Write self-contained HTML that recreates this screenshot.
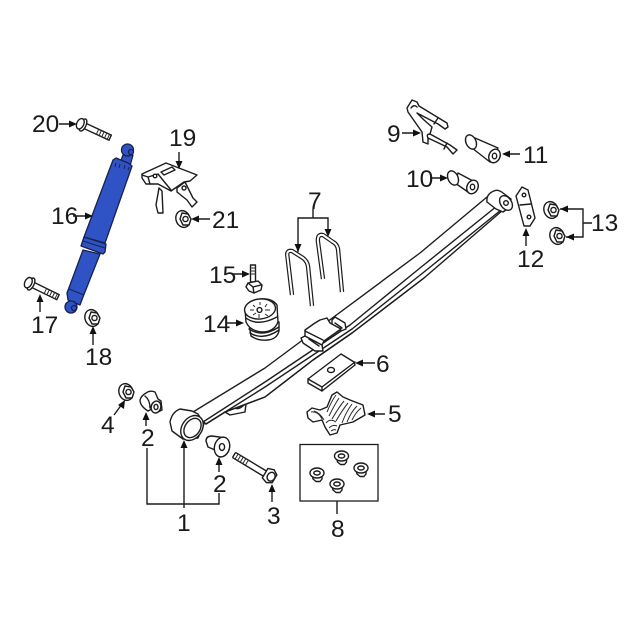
<!DOCTYPE html>
<html><head><meta charset="utf-8"><style>
html,body{margin:0;padding:0;background:#fff}
svg{display:block}
text{font-family:"Liberation Sans",sans-serif;font-size:24.5px;fill:#1a1a1a}
.o{fill:#fff;stroke:#1c1c1c;stroke-width:1.4;stroke-linejoin:round;stroke-linecap:round}
.l{fill:none;stroke:#1c1c1c;stroke-width:1.4;stroke-linejoin:round;stroke-linecap:round}
.t{fill:none;stroke:#2a2a2a;stroke-width:1}
.a{fill:none;stroke:#1c1c1c;stroke-width:1.4}
.h{fill:#111}
.b{fill:#2f52c4;stroke:#18224d;stroke-width:1.3;stroke-linejoin:round}
.bl{fill:none;stroke:#18224d;stroke-width:1}
.ub{fill:none;stroke:#1c1c1c;stroke-width:4.4;stroke-linejoin:round;stroke-linecap:butt}
.ui{fill:none;stroke:#fff;stroke-width:2;stroke-linejoin:round;stroke-linecap:butt}
</style></head><body>
<svg width="640" height="640" viewBox="0 0 640 640" xmlns="http://www.w3.org/2000/svg" style="filter:blur(.25px)">
<rect width="640" height="640" fill="#fff"/>
<defs>
<g id="nut"><ellipse cx="0" cy="0" rx="7" ry="8.5" class="o" transform="rotate(-20)"/><path class="o" d="M-1,-6 L5,-5 L8,0 L6,6 L0,6 L-3,0 Z"/><circle cx="2.5" cy="0" r="2.6" class="o"/></g>
<g id="bnut"><path class="o" d="M-5,1 L-4,6 L-1,8.500 L3,8.500 L5,6 L5,1 Z"/><ellipse cx="0" cy="0" rx="7" ry="5" class="o"/><ellipse cx="0" cy="0" rx="3.200" ry="2" class="o"/></g>
</defs>

<!-- Shock absorber -->
<g>
<path class="b" d="M120,163 L123,155 L133,155 L130,166 Z"/>
<circle cx="127.500" cy="150" r="6" class="b"/>
<circle cx="131" cy="152" r="2.500" class="b"/>
<path class="b" d="M83,250 L100,254 L83,297 L80,305 L68,300 L67,293 Z"/>
<path class="b" d="M113,160 L116,158 L128,163 L132,166 L131,169 L105,243 L84,237 Z"/>
<path class="b" d="M84,237 L106,244 L105,252 L103,254 L81,246 Z"/>
<path class="bl" d="M83,241 L105,248"/>
<circle cx="71" cy="307" r="6" class="b"/>
<circle cx="74" cy="308" r="2.500" class="b"/>
<path class="bl" d="M69,289 L84,295"/>
<path class="bl" d="M116,163 L115,167 M120,164 L119,168 M125,165 L124,169 M129,167 L128,170"/>
</g>

<!-- Bolt 20 -->
<g transform="translate(83,125) rotate(25)">
<rect x="0" y="-2.800" width="30" height="5.600" class="o"/>
<path class="t" d="M16,-3V3M19,-3V3M22,-3V3M25,-3V3M28,-3V3"/>
<ellipse cx="0" cy="0" rx="3" ry="6.500" class="o"/><ellipse cx="-3" cy="0" rx="3.500" ry="5.500" class="o"/>
</g>
<!-- Bolt 17 -->
<g transform="translate(31,284) rotate(26)">
<rect x="0" y="-2.800" width="30" height="5.600" class="o"/>
<path class="t" d="M16,-3V3M19,-3V3M22,-3V3M25,-3V3M28,-3V3"/>
<ellipse cx="0" cy="0" rx="3" ry="6.500" class="o"/><ellipse cx="-3" cy="0" rx="3.500" ry="5.500" class="o"/>
</g>

<!-- Bracket 19 -->
<g>
<path class="o" d="M159,188 L162,191 L163,213 L158,213 L156,205 Z" />
<path class="o" d="M177,188 L185,182 L193,198 L197,202 L192,207 L187,200 L177,192 Z"/>
<path class="o" d="M142,174 L166,163 L197,175 L190,181 L184,182 L171,191 L158,184 L146,184 L142,178 Z"/>
<path class="l" d="M142,175 L148,177 L150,184 M148,177 L158,174 L171,190"/>
<path class="l" d="M161,172 L172,167 L175,170 L164,175 Z"/>
<circle cx="155" cy="176" r="1.800" class="o"/>
<circle cx="184" cy="188" r="2" class="o"/>
</g>

<use href="#nut" x="183" y="219"/>
<use href="#nut" x="92" y="318"/>
<use href="#nut" x="126" y="392"/>
<use href="#nut" x="551" y="210"/>
<use href="#nut" x="557" y="236"/>

<!-- Leaf spring -->
<g>
<path class="o" d="M225,412 L230,415 L245,412 L246,404 L244,400 L228,408 Z"/>
<path class="l" d="M233,407 Q238,411 244,405"/>
<path class="o" d="M193,412 L265,368 L300,342 L420,253 L487,197 L503,210 L424,278 L352,333 L313,360 L265,397 L225,412 L206,424 Z"/>
<path class="l" d="M203,422 L265,382 L350,325 L420,268 L497,206"/>
<path class="l" d="M206,424 L265,387 L352,329 L424,272 L501,210"/>
<path class="l" d="M225,412 L265,397 L313,360 L352,333 L424,278"/>
<!-- clamp -->
<path class="o" d="M301,338 L305,336 L322,345 L323,351 L315,351 L303,343 Z"/>
<path class="o" d="M332,320 L335,317 L345,323 L346,329 L341,331 L332,326 Z"/>
<path class="o" d="M305,336 L305,330 L315,323 L320,320 L327,318 L330,323 L341,329 L324,341 L322,345 Z"/>
<path class="l" d="M305,331 L323,340 M309,339 L319,346 M335,323 L342,328"/>
<!-- right eye -->
<path class="o" d="M487,202 Q486,194 494,191 Q498,189 503,193 L511,199 L510,207 L503,212 L496,209 Z"/>
<ellipse cx="506" cy="203" rx="5.500" ry="8" class="o" transform="rotate(-35 506 203)"/>
<circle cx="506" cy="203" r="2.300" class="o"/>
<!-- left eye -->
<path class="o" d="M180,409 Q172,412 170,422 L172,431 L183,439 L198,438 L204,424 L198,414 L192,411 Z"/>
<ellipse cx="192" cy="428" rx="10" ry="13.500" class="o" transform="rotate(35 192 428)"/>
<ellipse cx="192.500" cy="428" rx="7.500" ry="10.500" class="o" transform="rotate(35 192.500 428)"/>
</g>

<!-- U-bolts -->
<path class="ub" d="M292,295 L287.500,257 Q286,250 292,251 L303,258 Q307,261 308,266 L312,306"/>
<path class="ui" d="M292,295 L287.500,257 Q286,250 292,251 L303,258 Q307,261 308,266 L312,306"/>
<path class="ub" d="M323,279 L318,242 Q317,234 323,235 L333,242 Q337,244 338,249 L342,292"/>
<path class="ui" d="M323,279 L318,242 Q317,234 323,235 L333,242 Q337,244 338,249 L342,292"/>

<!-- Bolt 15 -->
<g>
<rect x="250.500" y="265" width="5" height="17" class="o"/>
<path class="t" d="M250,268H256M250,271H256M250,274H256"/>
<path class="o" d="M248,283 L258,281 L262,285 L261,290 L254,293 L249,291 L246,287 Z"/>
<path class="l" d="M248,283 L253,287 L261,285 M253,287 L254,293"/>
</g>

<!-- Bumper 14 -->
<g>
<path class="o" d="M249,324 L251,336 Q258,341 268,340 Q277,339 279,331 L279,322 Z"/>
<path class="l" d="M249,329 Q262,338 279,327 M250,333 Q263,341 279,330"/>
<path class="o" d="M245,309 L246,322 Q250,331 262,332 Q274,332 278,322 L277,305 Q272,298 260,299 Q247,300 245,309 Z"/>
<ellipse cx="260" cy="309" rx="15.500" ry="10" class="o" transform="rotate(-6 260 309)"/>
<path class="l" d="M246,318 Q258,327 277,317"/>
<circle cx="259.500" cy="310" r="2.400" class="o"/>
<path class="t" d="M260,302V305M253,305L255,307M267,304L265,307M250,310H254M265,310H270M253,315L256,313M265,314L268,316M259,314V318"/>
</g>

<!-- Plate 6 -->
<path class="o" d="M308,379 L341,354 L354,362 L355,365 L322,391 L308,383 Z"/>
<path class="l" d="M308,379 L322,387 L355,362 M322,387 L322,391"/>
<ellipse cx="331" cy="370" rx="3.500" ry="2.600" class="o"/>

<!-- Part 5 -->
<g>
<path class="o" d="M307,412 L312,408 L320,410 L327,407 L332,395 L337,392 L343,397 L350,400 L363,405 L365,415 L353,422 L340,425 L337,433 L330,435 L325,427 L322,420 L313,422 L308,418 Z"/>
<path class="t" d="M311,412 Q318,411 322,419 M314,411 Q320,413 324,420 M327,412 Q332,400 336,395 M329,416 Q335,404 339,398 M332,419 Q339,407 344,401 M336,421 Q343,409 348,403 M342,423 Q346,412 352,404 M347,422 Q351,412 357,406 M352,420 Q356,412 361,408 M326,423 Q330,418 336,422 M329,428 Q333,424 337,426 M331,431 Q334,429 336,430"/>
</g>

<!-- Box 8 -->
<rect x="300" y="444.500" width="78" height="56.500" fill="#fff" stroke="#1c1c1c" stroke-width="1.300"/>
<use href="#bnut" x="341.500" y="456"/>
<use href="#bnut" x="361" y="468"/>
<use href="#bnut" x="317" y="473"/>
<use href="#bnut" x="337" y="484"/>

<!-- Bushing left 2 -->
<g>
<path class="o" d="M146,393 Q150,390 155,392 L158,399 L161,401 L162,410 L156,413 L152,409 L148,411 Q140,406 140,400 Q141,396 146,393 Z"/>
<path class="l" d="M145,396 Q150,400 150,408"/>
<ellipse cx="156" cy="407" rx="4.800" ry="6" class="o" transform="rotate(15 156 407)"/>
<ellipse cx="156" cy="407" rx="2" ry="2.600" class="o"/>
</g>
<!-- Bushing right 2 -->
<g>
<path class="o" d="M206,441 Q206,436 212,436 L226,438 Q231,442 229,450 Q226,457 220,457 Q216,455 215,450 L208,447 Z"/>
<ellipse cx="222" cy="447" rx="7.500" ry="10" class="o" transform="rotate(15 222 447)"/>
<ellipse cx="222" cy="447" rx="2.600" ry="3.400" class="o"/>
</g>

<!-- Bolt 3 -->
<g transform="translate(234,455) rotate(31)">
<rect x="0" y="-3" width="37" height="6" class="o" rx="1"/>
<path class="t" d="M3,-3V3M6,-3V3M9,-3V3M12,-3V3M15,-3V3"/>
<path class="o" d="M36,-6 L42,-8 L47,-5 L47,4 L42,7 L36,5 Z"/>
<ellipse cx="43" cy="-.5" rx="3.800" ry="4.600" class="o"/>
</g>

<!-- Bracket 9 -->
<g>
<path class="o" d="M407,108 L412,100 L417,102 L419,106 L442,120 L447,123 L448,127 L445,129 L438,124 L417,113 L424,120 L432,127 L430,134 L450,145 L457,150 L453,154 L447,147 L428,138 L428,144 L423,142 L422,132 L408,112 Z"/>
<path class="l" d="M411,108 Q414,104 417,107 M430,134 Q426,134 428,138 M438,118 L434,124 M447,143 L444,149"/>
</g>

<!-- Pin 11 -->
<g>
<path class="o" d="M475,138 L498,148 L490,162 L472,148 Z"/>
<ellipse cx="471" cy="142" rx="5" ry="7.500" class="o" transform="rotate(-25 471 142)"/>
<ellipse cx="494.500" cy="156" rx="5.500" ry="7" class="o" transform="rotate(25 494.500 156)"/>
<ellipse cx="494.500" cy="156" rx="2.200" ry="2.800" class="o"/>
</g>
<!-- Pin 10 -->
<g>
<path class="o" d="M458,173 L475,182 L468,192 L455,183 Z"/>
<ellipse cx="453" cy="178" rx="5" ry="7.500" class="o" transform="rotate(-25 453 178)"/>
<ellipse cx="472.500" cy="187" rx="5.500" ry="7" class="o" transform="rotate(25 472.500 187)"/>
<ellipse cx="472.500" cy="187" rx="2.200" ry="2.800" class="o"/>
</g>

<!-- Bracket 12 -->
<path class="o" d="M516,196 L522,187 L528,190 L535,218 L530,226 L524,226 Z"/>
<circle cx="524" cy="195" r="1.800" class="o"/>
<circle cx="529" cy="217" r="1.800" class="o"/>
<path class="l" d="M520,205 L531,204"/>

<!-- Leader lines -->
<path class="a" d="M59,124H71M73,216H88M179,152V164M210,219H196M40,312V299M93,345V331M233,274H245M227,323H239
M313,209V218M298,252V218H328V232M402,133H416M520,154H507M430,178H443M526,246V233M592,223H583M560,209H583V237H566M375,363H360M385,414H372M337,501V514M114,415L122,404M146,426V417M147,448V504H219V493M219,472V462M184,508V445M272,502V489"/>
<!-- Arrowheads -->
<path class="h" d="M77,124L69,120.500V127.500Z"/>
<path class="h" d="M93,216L85,212.500V219.500Z"/>
<path class="h" d="M179,169L175.500,161H182.500Z"/>
<path class="h" d="M191,219L199,215.500V222.500Z"/>
<path class="h" d="M40,294L36.500,302H43.500Z"/>
<path class="h" d="M93,326L89.500,334H96.500Z"/>
<path class="h" d="M250,274L242,270.500V277.500Z"/>
<path class="h" d="M244,323L236,319.500V326.500Z"/>
<path class="h" d="M298,252L294.500,244H301.500Z"/>
<path class="h" d="M328,237L324.500,229H331.500Z"/>
<path class="h" d="M421,133L413,129.500V136.500Z"/>
<path class="h" d="M502,154L510,150.500V157.500Z"/>
<path class="h" d="M448,178L440,174.500V181.500Z"/>
<path class="h" d="M526,228L522.500,236H529.500Z"/>
<path class="h" d="M560,209L568,205.500V212.500Z"/>
<path class="h" d="M566,237L574,233.500V240.500Z"/>
<path class="h" d="M355,363L363,359.500V366.500Z"/>
<path class="h" d="M367,414L375,410.500V417.500Z"/>
<path class="h" d="M125,400L118,405L124,409Z"/>
<path class="h" d="M146,412L142.500,420H149.500Z"/>
<path class="h" d="M219,457L215.500,465H222.500Z"/>
<path class="h" d="M184,440L180.500,448H187.500Z"/>
<path class="h" d="M272,484L268.500,492H275.500Z"/>

<!-- Labels -->
<text x="32" y="132">20</text>
<text x="51" y="224">16</text>
<text x="31" y="333">17</text>
<text x="85" y="365">18</text>
<text x="169" y="146">19</text>
<text x="212" y="228">21</text>
<text x="209" y="283">15</text>
<text x="203" y="332">14</text>
<text x="387" y="142">9</text>
<text x="523" y="163">11</text>
<text x="406" y="187">10</text>
<text x="517" y="267">12</text>
<text x="591" y="231">13</text>
<text x="308" y="209">7</text>
<text x="376" y="372">6</text>
<text x="388" y="422">5</text>
<text x="101" y="433">4</text>
<text x="141" y="446">2</text>
<text x="213" y="492">2</text>
<text x="177" y="531">1</text>
<text x="267" y="524">3</text>
<text x="331" y="537">8</text>
</svg>
</body></html>
